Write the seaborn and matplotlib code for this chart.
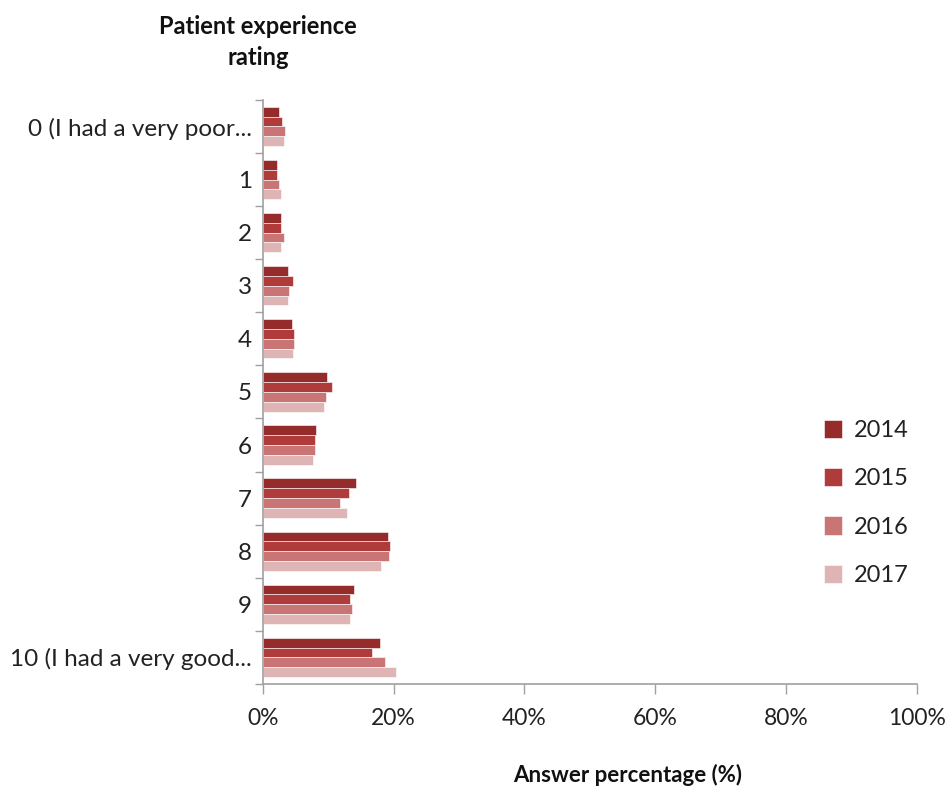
import pandas as pd
import matplotlib.pyplot as plt
import seaborn as sns
from matplotlib.ticker import PercentFormatter, FixedLocator

# Data (percent of answers)
ratings = ['0 (I had a very poor...', '1', '2', '3', '4', '5', '6', '7', '8', '9',
           '10 (I had a very good...']
years = ['2014', '2015', '2016', '2017']
pct_2014 = [2.4, 2.2, 2.8, 3.8, 4.4, 9.8, 8.1, 14.2, 19.1, 13.9, 17.9]
pct_2015 = [3.0, 2.2, 2.8, 4.6, 4.8, 10.6, 7.9, 13.2, 19.4, 13.4, 16.7]
pct_2016 = [3.4, 2.4, 3.2, 4.0, 4.8, 9.6, 7.9, 11.8, 19.3, 13.6, 18.7]
pct_2017 = [3.2, 2.8, 2.8, 3.8, 4.6, 9.3, 7.7, 12.8, 18.1, 13.4, 20.3]
colors = ['#952b2b', '#b03b3b', '#c97475', '#dfb4b5']

rows = []
for year, vals in zip(years, [pct_2014, pct_2015, pct_2016, pct_2017]):
    for r, v in zip(ratings, vals):
        rows.append({'rating': r, 'year': year, 'pct': v})
df = pd.DataFrame(rows)

sns.set_style('white')
plt.rcParams['font.family'] = ['Lato', 'DejaVu Sans']

fig = plt.figure(figsize=(9.49, 7.87), dpi=100)
ax = fig.add_axes([0.277, 0.131, 0.689, 0.742])

sns.barplot(data=df, x='pct', y='rating', hue='year', order=ratings,
            hue_order=years, palette=colors, saturation=1, orient='h', width=0.74,
            edgecolor='white', linewidth=0.4, ax=ax)

ax.set_xlim(0, 100)
ax.set_ylim(10.5, -0.5)
ax.xaxis.set_major_locator(FixedLocator([0, 20, 40, 60, 80, 100]))
ax.xaxis.set_major_formatter(PercentFormatter(xmax=100, decimals=0))
ax.set_xlabel('')
ax.set_ylabel('')

# Excel-style ticks between categories
ax.set_yticks(range(len(ratings)))
ax.set_yticklabels(ratings)
ax.yaxis.set_minor_locator(FixedLocator([i - 0.5 for i in range(len(ratings) + 1)]))
ax.tick_params(axis='y', which='major', length=0, pad=8, labelsize=17.5, labelcolor='#222222')
ax.tick_params(axis='y', which='minor', length=6, width=1, color='#a0a0a0', left=True)
ax.tick_params(axis='x', which='major', length=7, width=1, color='#a0a0a0', bottom=True,
               pad=10, labelsize=16.5, labelcolor='#222222')

for side in ['top', 'right']:
    ax.spines[side].set_visible(False)
for side in ['left', 'bottom']:
    ax.spines[side].set_color('#a0a0a0')
    ax.spines[side].set_linewidth(1.2)

leg = ax.legend(loc='center left', bbox_to_anchor=(0.825, 0.31), frameon=False,
                fontsize=17, handlelength=0.8, handleheight=0.8, labelspacing=1.15,
                handletextpad=0.5)
for t in leg.get_texts():
    t.set_color('#222222')

fig.text(0.272, 0.947, 'Patient experience\nrating', ha='center', va='center',
         fontsize=17, fontweight='bold', color='#111111', linespacing=1.4)
fig.text(0.661, 0.015, 'Answer percentage (%)', ha='center', va='center',
         fontsize=16, fontweight='bold', color='#111111')

fig.savefig('out.png', dpi=100)
